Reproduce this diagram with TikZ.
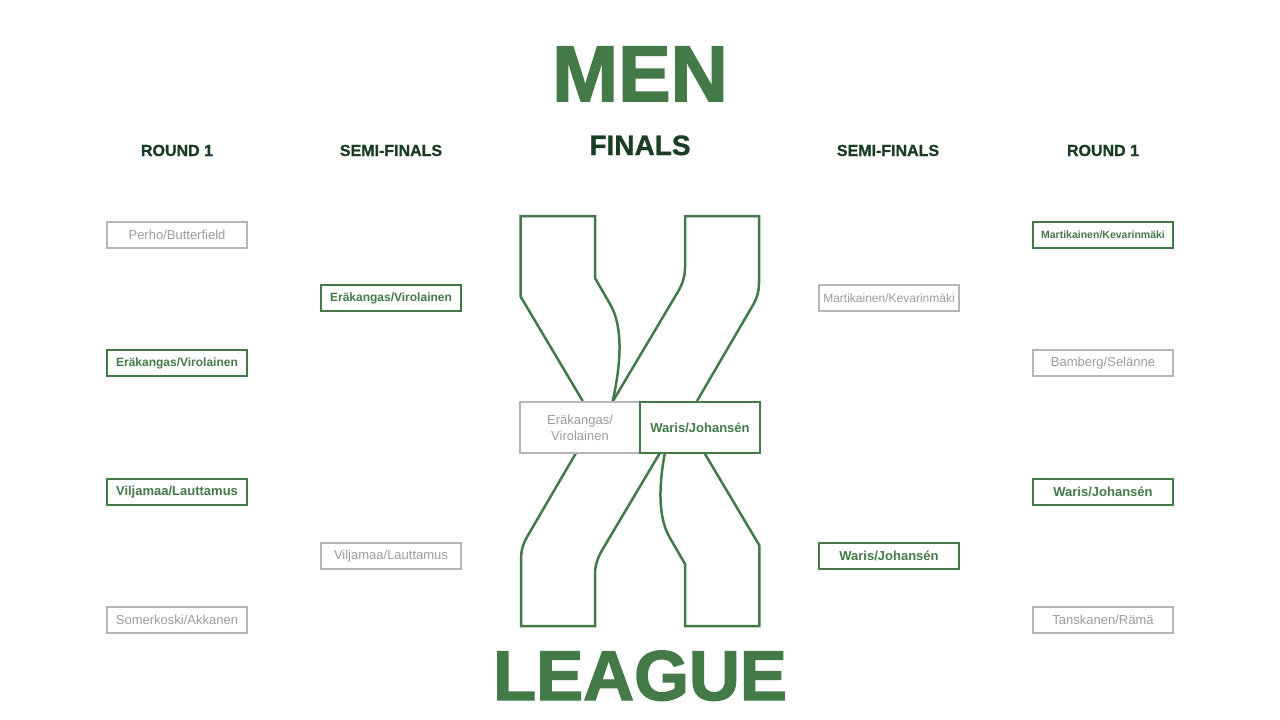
\documentclass[tikz,border=0pt]{standalone}
\usepackage{fontspec}
\setmainfont{Liberation Sans}
\newfontface\heavyfont{Liberation Sans Bold}[FakeBold=2]
\newfontface\headfont{Liberation Sans Bold}[FakeBold=1]
\definecolor{xgreen}{HTML}{447A48}
\definecolor{headgreen}{HTML}{183D23}
\definecolor{boxgray}{HTML}{B6B6B6}
\definecolor{textgray}{HTML}{9C9C9C}
\begin{document}
\begin{tikzpicture}[x=1pt,y=-1pt,
  arm/.style={draw=xgreen,line width=2.5pt},
  team/.style={minimum width=140,minimum height=26,inner sep=0,fill=white,font=\fontsize{13}{15}\selectfont},
  win/.style={team,draw=xgreen,line width=2pt,text=xgreen,font=\fontsize{13}{15}\selectfont\bfseries},
  lose/.style={team,draw=boxgray,line width=1.3pt,text=textgray},
  head/.style={anchor=base,inner sep=0,text=headgreen,font=\fontsize{16}{18}\headfont},
  title/.style={anchor=base,inner sep=0,text=xgreen,font=\fontsize{#1}{#1}\heavyfont}]
\useasboundingbox[fill=white] (0,0) rectangle (1280,720);
% the X, upper arms and the same turned round
\draw[arm] (582.7,401) -- (520.7,296.7) -- (520.7,216) -- (595,216) -- (595,278) -- (610,304) .. controls (620,321) and (624,350) .. (612.7,401);
\draw[arm] (697,401) -- (753,305) .. controls (757,298) and (759,292) .. (759,282) -- (759,216) -- (685,216) -- (685,268) .. controls (685,276) and (683,282) .. (679,290) -- (613,401);
\begin{scope}[rotate around={180:(640,421)}]
\draw[arm] (582.7,401) -- (520.7,296.7) -- (520.7,216) -- (595,216) -- (595,278) -- (610,304) .. controls (620,321) and (624,350) .. (612.7,401);
\draw[arm] (697,401) -- (753,305) .. controls (757,298) and (759,292) .. (759,282) -- (759,216) -- (685,216) -- (685,268) .. controls (685,276) and (683,282) .. (679,290) -- (613,401);
\end{scope}
% titles
\node[title=79] (men) at (640,101) {MEN};
\node[title=70.5] (league) at (640,700) {LEAGUE};
\node[head] (hr1l) at (177,156) {ROUND 1};
\node[head] (hsfl) at (391,156) {SEMI-FINALS};
\node[head,font=\fontsize{28}{30}\headfont] (hfin) at (640,155) {FINALS};
\node[head] (hsfr) at (888,156) {SEMI-FINALS};
\node[head] (hr1r) at (1103,156) {ROUND 1};
% left side
\node[lose] (r1a) at (177,235) {Perho/Butterfield};
\node[win,font=\fontsize{12}{14}\selectfont\bfseries] (r1b) at (177,363) {Eräkangas/Virolainen};
\node[win] (r1c) at (177,492) {Viljamaa/Lauttamus};
\node[lose] (r1d) at (177,620) {Somerkoski/Akkanen};
\node[win,font=\fontsize{12}{14}\selectfont\bfseries] (sfa) at (391,298) {Eräkangas/Virolainen};
\node[lose] (sfb) at (391,556) {Viljamaa/Lauttamus};
% right side
\node[lose,font=\fontsize{12}{14}\selectfont] (sfc) at (889,298) {Martikainen/Kevarinmäki};
\node[win] (sfd) at (889,556) {Waris/Johansén};
\node[win,font=\fontsize{10.5}{12}\selectfont\bfseries] (r1e) at (1103,235) {Martikainen/Kevarinmäki};
\node[lose] (r1f) at (1103,363) {Bamberg/Selänne};
\node[win] (r1g) at (1103,492) {Waris/Johansén};
\node[lose] (r1h) at (1103,620) {Tanskanen/Rämä};
% finals
\node[lose,minimum width=120,minimum height=51,align=center,font=\fontsize{13}{16}\selectfont] (fina) at (580,427.5) {Eräkangas/\\Virolainen};
\node[win,minimum width=120,minimum height=51] (finb) at (700,427.5) {Waris/Johansén};
\end{tikzpicture}
\end{document}
